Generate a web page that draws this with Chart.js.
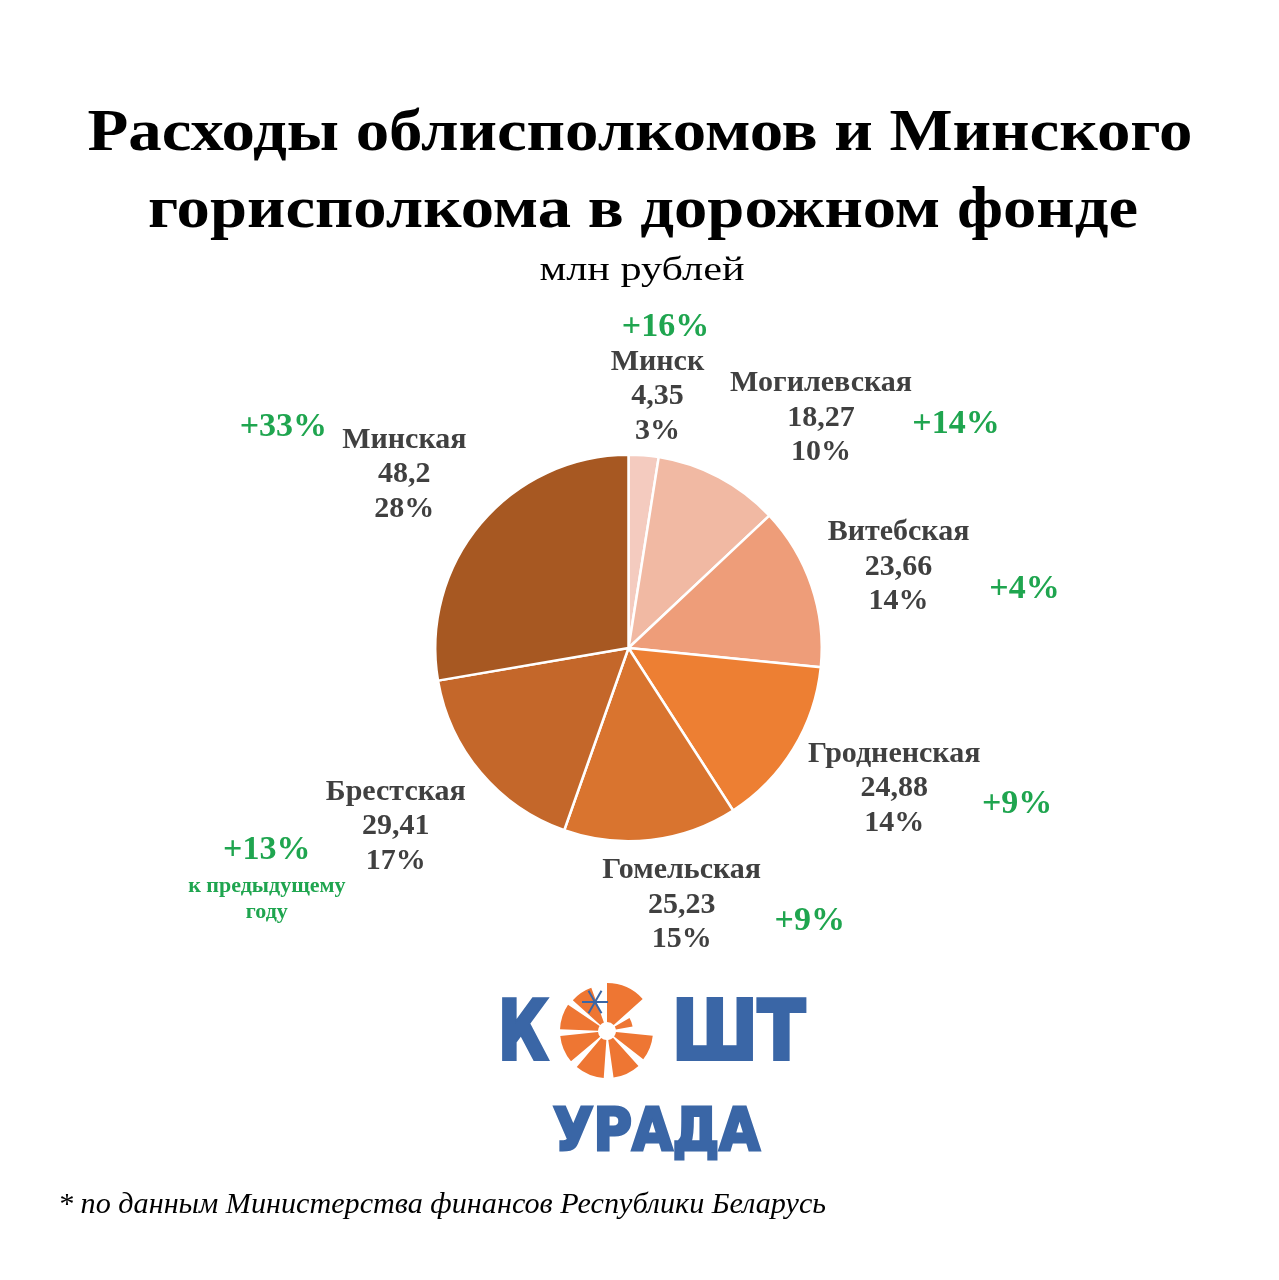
<!DOCTYPE html>
<html lang="ru">
<head>
<meta charset="utf-8">
<title>Расходы облисполкомов и Минского горисполкома в дорожном фонде</title>
<script src="https://cdn.jsdelivr.net/npm/chart.js@4/dist/chart.umd.min.js"></script>
<style>
  html, body { margin: 0; padding: 0; background: #fff; overflow: hidden; }
  canvas { display: block; }
</style>
</head>
<body>
<canvas id="pie" width="1279" height="1280"></canvas>
<script>
// данные с картинки, млн рублей
const categories = ["Минск", "Могилевская", "Витебская", "Гродненская", "Гомельская", "Брестская", "Минская"];
const spending = [4.35, 18.27, 23.66, 24.88, 25.23, 29.41, 48.2];
const shareLabels = ["3%", "10%", "14%", "14%", "15%", "17%", "28%"];
const changeLabels = ["+16%", "+14%", "+4%", "+9%", "+9%", "+13%", "+33%"];

const sliceColors = ["#f4cbbf", "#f1b9a3", "#ee9d79", "#ed7f33", "#d9742f", "#c4672a", "#a75822"];

// сдвиги подписей относительно расчётной точки и зелёных приростов относительно подписи
const labelNudge = [[9, 2], [58, 24], [2, 10], [10, -16], [23, -1], [-14, -6], [-10, 7]];
const changeOffset = [[8, -69], [135, 6], [126, 22], [123, 16], [128, 16], [-129, 24], [-121, -47]];

const SERIF = "'Liberation Serif', 'Times New Roman', serif";
const LABEL_FONT = "bold 30px " + SERIF;
const LINE_H = 34.5;
const GREEN = "#1fa54f";
const BLUE = "#3a66a6";
const ORANGE = "#ee7633";

const fmt = v => String(v).replace(".", ",");

// текст, сжатый по ширине под нужный размер
function drawFit(ctx, text, font, x, y, width, align, color, heavy) {
  ctx.save();
  ctx.font = font;
  const m = ctx.measureText(text).width;
  ctx.translate(x, y);
  ctx.scale(width / m, 1);
  ctx.textAlign = align;
  ctx.textBaseline = "alphabetic";
  ctx.fillStyle = color;
  if (heavy) {
    ctx.strokeStyle = color;
    ctx.lineWidth = heavy;
    ctx.lineJoin = "miter";
    ctx.strokeText(text, 0, 0);
  }
  ctx.fillText(text, 0, 0);
  ctx.restore();
}

function drawLogo(ctx) {
  drawFit(ctx, "К", "bold 82px 'DejaVu Sans', sans-serif", 498, 1059, 50, "left", BLUE, 4);
  drawFit(ctx, "ШТ", "bold 82px 'DejaVu Sans', sans-serif", 672, 1059, 133, "left", BLUE, 4);
  drawFit(ctx, "УРАДА", "bold 58px 'DejaVu Sans', sans-serif", 553, 1150, 207, "left", BLUE, 3);

  // круг из долек
  const cx = 607, cy = 1031;
  const wedges = [[-90, -42, 48], [-30, -10, 26], [6, 38, 46], [48, 82, 47], [94, 130, 47], [140, 174, 47], [182, 214, 47], [222, 250, 46]];
  ctx.save();
  ctx.fillStyle = ORANGE;
  wedges.forEach(([a0, a1, r]) => {
    const s = a0 * Math.PI / 180, e = a1 * Math.PI / 180;
    ctx.beginPath();
    ctx.arc(cx, cy, r, s, e);
    ctx.arc(cx, cy, 9, e, s, true);
    ctx.closePath();
    ctx.fill();
  });
  // снежинка
  ctx.strokeStyle = BLUE;
  ctx.lineWidth = 2;
  const sx = 595, sy = 1002;
  for (let k = 0; k < 6; k++) {
    const a = k * Math.PI / 3;
    ctx.beginPath();
    ctx.moveTo(sx, sy);
    ctx.lineTo(sx + Math.cos(a) * 13, sy + Math.sin(a) * 13);
    ctx.stroke();
  }
  ctx.restore();
}

const pageText = {
  id: "pageText",
  beforeDraw(chart) {
    const ctx = chart.ctx;
    ctx.save();
    ctx.fillStyle = "#fff";
    ctx.fillRect(0, 0, chart.width, chart.height);
    ctx.restore();
    drawFit(ctx, "Расходы облисполкомов и Минского", "bold 60px " + SERIF, 640, 150, 1105, "center", "#000");
    drawFit(ctx, "горисполкома в дорожном фонде", "bold 60px " + SERIF, 643, 227, 990, "center", "#000");
    drawFit(ctx, "млн рублей", "33px " + SERIF, 642, 280, 205, "center", "#000");
  },
  afterDraw(chart) {
    const ctx = chart.ctx;
    drawFit(ctx, "* по данным Министерства финансов Республики Беларусь", "italic 29px " + SERIF, 58, 1213, 768, "left", "#000");
    drawLogo(ctx);
  }
};

const sliceLabels = {
  id: "sliceLabels",
  afterDatasetsDraw(chart) {
    const ctx = chart.ctx;
    const meta = chart.getDatasetMeta(0);
    meta.data.forEach((arc, i) => {
      const p = arc.getProps(["x", "y", "startAngle", "endAngle", "outerRadius"], true);
      const mid = (p.startAngle + p.endAngle) / 2;
      const dx = Math.cos(mid), dy = Math.sin(mid);
      const lines = [categories[i], fmt(spending[i]), shareLabels[i]];
      ctx.save();
      ctx.font = LABEL_FONT;
      const w = Math.max(...lines.map(t => ctx.measureText(t).width));
      const h = lines.length * LINE_H;
      const d = p.outerRadius + 6 + Math.abs(dx) * w / 2 + Math.abs(dy) * h / 2;
      const lx = p.x + dx * d + labelNudge[i][0];
      const ly = p.y + dy * d + labelNudge[i][1];
      ctx.textAlign = "center";
      ctx.textBaseline = "middle";
      ctx.fillStyle = "#404040";
      lines.forEach((t, k) => ctx.fillText(t, lx, ly + (k - 1) * LINE_H));

      // прирост к предыдущему году
      const gx = lx + changeOffset[i][0], gy = ly + changeOffset[i][1];
      ctx.fillStyle = GREEN;
      ctx.font = "bold 34px " + SERIF;
      ctx.fillText(changeLabels[i], gx, gy);
      if (categories[i] === "Брестская") {
        ctx.font = "bold 22px " + SERIF;
        ctx.fillText("к предыдущему", gx, gy + 36);
        ctx.fillText("году", gx, gy + 62);
      }
      ctx.restore();
    });
  }
};

const data = {
  labels: categories,
  datasets: [{
    data: spending,
    backgroundColor: sliceColors,
    borderColor: "#ffffff",
    borderWidth: 2.5,
    borderAlign: "center"
  }]
};

const options = {
  responsive: false,
  animation: false,
  devicePixelRatio: 1,
  layout: { padding: { left: 434, right: 456, top: 453, bottom: 437 } },
  plugins: {
    legend: { display: false },
    tooltip: { enabled: false },
    title: { display: false }
  }
};

new Chart(document.getElementById("pie").getContext("2d"), {
  type: "pie",
  data,
  options,
  plugins: [pageText, sliceLabels]
});
</script>
</body>
</html>
